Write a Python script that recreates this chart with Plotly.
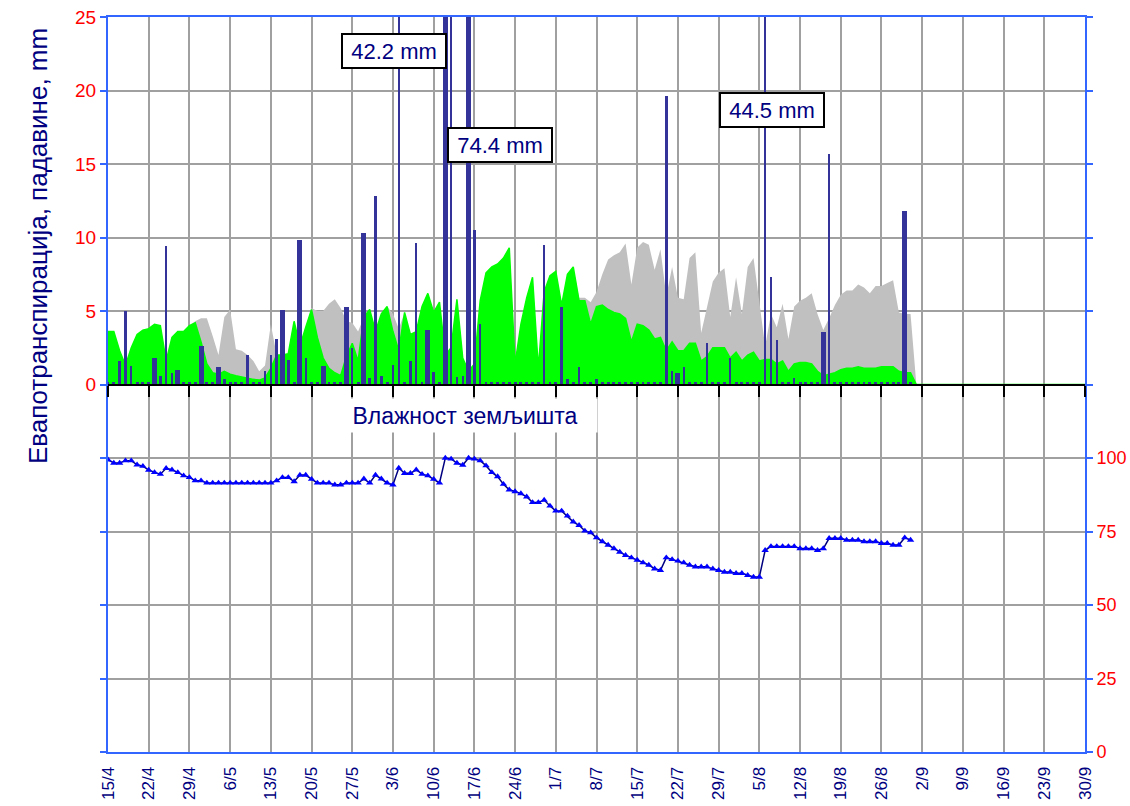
import plotly.graph_objects as go

# ---------------- data ----------------
# day index 0 = 15/4 ... 168 = 30/9
tick_labels = ["15/4", "22/4", "29/4", "6/5", "13/5", "20/5", "27/5", "3/6", "10/6", "17/6",
               "24/6", "1/7", "8/7", "15/7", "22/7", "29/7", "5/8", "12/8", "19/8", "26/8",
               "2/9", "9/9", "16/9", "23/9", "30/9"]
tick_days = [0, 7, 14, 21, 28, 35, 42, 49, 56, 63, 70, 77, 84, 91, 98, 105, 112, 119, 126,
             133, 140, 147, 154, 161, 168]

# actual evapotranspiration (green), mm, days 0..168
eta = [3.6, 3.6, 2.3, 1.3, 2.5, 3.4, 3.7, 3.8, 4.1, 4.0,
       1.6, 3.2, 3.6, 3.6, 4.0, 4.2, 2.9, 1.4, 0.8, 0.7,
       0.9, 0.7, 0.6, 0.5, 0.4, 0.35, 0.3, 0.45, 1.1, 2.0,
       2.0, 2.1, 4.3, 2.6, 3.9, 5.1, 3.2, 1.8, 1.1, 0.8,
       0.6, 1.9, 2.8, 1.6, 4.6, 5.1, 3.6, 4.8, 5.3, 3.6,
       2.3, 4.9, 3.4, 3.6, 5.3, 6.2, 4.9, 5.6, 2.0, 2.5,
       5.8, 1.8, 0.9, 1.4, 5.7, 7.6, 8.0, 8.2, 8.6, 9.3,
       1.4, 4.1, 5.9, 7.3, 1.1, 6.3, 7.4, 7.7, 5.4, 7.5,
       8.0, 5.7, 5.7, 4.1, 5.3, 5.4, 5.1, 4.9, 4.8, 4.5,
       2.9, 4.1, 4.0, 3.7, 3.1, 3.2, 2.3, 2.9, 2.3, 2.3,
       2.8, 2.8, 1.6, 1.9, 2.5, 2.5, 2.5, 1.8, 2.2, 1.6,
       2.0, 2.2, 1.6, 1.7, 1.7, 1.4, 1.6, 0.9, 1.4, 1.5,
       1.5, 1.4, 0.9, 0.6, 0.7, 0.8, 1.0, 1.1, 1.1, 1.2,
       1.1, 1.1, 1.1, 1.2, 1.2, 1.2, 0.9, 0.8, 0.8,
       0, 0, 0, 0, 0, 0, 0, 0, 0, 0, 0, 0, 0, 0, 0,
       0, 0, 0, 0, 0, 0, 0, 0, 0, 0, 0, 0, 0, 0, 0]

# potential evapotranspiration (grey), mm, days 0..168
etp = [3.6, 3.6, 2.3, 1.3, 2.5, 3.4, 3.7, 3.8, 4.1, 4.0,
       1.6, 3.2, 3.6, 3.6, 4.0, 4.3, 4.5, 4.5, 3.3, 2.0,
       4.6, 5.1, 2.4, 2.3, 2.0, 1.6, 0.9, 1.3, 4.1, 2.0,
       2.0, 2.1, 4.3, 2.6, 3.9, 5.2, 5.0, 5.0, 5.5, 5.8,
       5.2, 4.3, 4.2, 3.6, 4.6, 5.1, 3.6, 4.8, 5.3, 4.8,
       3.8, 4.9, 3.4, 3.6, 5.3, 6.2, 4.9, 5.6, 2.0, 2.5,
       5.8, 1.8, 0.9, 1.4, 5.7, 7.6, 8.0, 8.2, 8.6, 9.3,
       1.4, 4.1, 5.9, 7.3, 1.1, 6.3, 7.4, 7.7, 5.4, 7.5,
       8.0, 5.9, 5.9, 5.6, 6.3, 7.5, 8.5, 8.8, 9.0, 9.6,
       6.8, 9.3, 9.7, 9.5, 7.8, 9.2, 6.0, 8.0, 5.9, 5.8,
       8.6, 9.0, 3.5, 5.3, 7.0, 7.6, 7.9, 4.6, 7.3, 4.8,
       8.0, 8.6, 5.4, 2.6, 4.8, 3.9, 5.5, 3.1, 5.3, 5.7,
       5.9, 6.2, 4.8, 3.7, 4.5, 5.4, 6.1, 6.4, 6.4, 6.8,
       6.6, 6.2, 6.7, 6.7, 6.9, 7.1, 4.9, 4.8, 4.8,
       0, 0, 0, 0, 0, 0, 0, 0, 0, 0, 0, 0, 0, 0, 0,
       0, 0, 0, 0, 0, 0, 0, 0, 0, 0, 0, 0, 0, 0, 0]

# precipitation, narrow bars
rain_days = [2, 3, 4, 9, 10, 11, 20, 24, 27, 28, 29, 31, 34, 42, 45, 46, 47, 49, 50, 52, 53,
             56, 59, 60, 61, 63, 64, 75, 78, 79, 81, 84, 96, 97, 99, 103, 107, 113, 114,
             115, 118, 124]
rain_mm = [1.6, 5.0, 1.25, 0.6, 9.4, 0.8, 0.35, 2.0, 0.95, 2.0, 3.1, 1.7, 1.8, 2.45, 0.45,
           12.8, 0.6, 1.35, 42.2, 1.6, 9.6, 0.85, 28.0, 0.5, 0.6, 10.5, 4.1, 9.5, 5.3, 0.35,
           1.2, 0.35, 19.6, 0.95, 1.2, 2.8, 1.8, 44.5, 7.3, 3.0, 0.45, 15.7]

# precipitation, wide bars
rain2_days = [8, 12, 16, 19, 30, 33, 37, 41, 44, 55, 58, 62, 98, 123, 137]
rain2_mm = [1.8, 1.0, 2.65, 1.2, 5.1, 9.8, 1.25, 5.3, 10.3, 3.7, 74.4, 33.0, 0.8, 3.6, 11.8]

# trace amounts (small marks on the base line)
trace_days = [0, 1, 5, 6, 7, 13, 14, 15, 17, 18, 21, 22, 23, 25, 26, 32, 35, 36, 38, 39, 40,
              43, 48, 51, 54, 57, 65, 66, 67, 68, 69, 70, 71, 72, 73, 74, 76, 77, 80, 82, 83,
              85, 86, 87, 88, 89, 90, 91, 92, 93, 94, 95, 100, 101, 102, 104, 105, 106, 108,
              109, 110, 111, 112, 116, 117, 119, 120, 121, 122, 125, 126, 127, 128, 129, 130,
              131, 132, 133, 134, 135, 136, 138]
TRACE_MM = 0.15

# soil moisture, %, days 0..138
soil = [99.4, 98.3, 98.3, 99.1, 99.1, 97.7, 97.2, 95.9, 95.1, 94.5,
        96.5, 96.0, 95.1, 94.0, 93.4, 92.3, 92.3, 91.5, 91.5, 91.5,
        91.5, 91.5, 91.5, 91.5, 91.5, 91.5, 91.5, 91.5, 91.5, 92.3,
        93.4, 93.4, 92.0, 94.2, 94.2, 92.8, 91.5, 91.5, 91.5, 90.9,
        90.9, 91.5, 91.5, 91.5, 92.9, 91.5, 94.2, 92.9, 91.5, 90.9,
        96.6, 94.8, 94.8, 96.0, 94.5, 94.0, 92.8, 91.5, 100.0, 99.7,
        98.3, 97.6, 100.0, 99.7, 99.1, 97.4, 95.1, 93.7, 91.1, 89.2,
        88.6, 87.9, 86.8, 84.9, 84.9, 85.7, 83.7, 82.0, 82.0, 80.3,
        78.3, 77.1, 75.2, 74.6, 72.9, 71.6, 70.4, 69.2, 68.0, 66.9,
        66.1, 65.3, 64.4, 63.6, 62.3, 61.8, 66.1, 65.5, 65.0, 64.4,
        63.6, 63.0, 63.0, 63.0, 62.3, 61.8, 61.2, 61.2, 60.8, 60.8,
        60.1, 59.5, 59.5, 68.6, 69.9, 69.9, 69.9, 69.9, 69.9, 69.2,
        69.2, 69.2, 68.6, 69.2, 72.7, 72.7, 72.7, 72.1, 72.1, 72.1,
        71.6, 71.6, 71.6, 71.0, 71.0, 70.4, 70.4, 72.9, 72.1]

# ---------------- styling ----------------
FONT = "Arial, Liberation Sans, sans-serif"
NAVY = "#000080"
BAR = "#333399"
AXBLUE = "#3366FF"
GRID = "#A0A0A0"
RED = "#FF0000"

W, H = 1130, 806
ML, MR, MT, MB = 108, 45, 17, 54
PW = W - ML - MR
PH = H - MT - MB

days = list(range(len(eta)))
soil_days = list(range(len(soil)))

fig = go.Figure()

# areas on the base subplot (x, y)
fig.add_trace(go.Scatter(x=days, y=etp, xaxis="x", yaxis="y", mode="lines",
                         fill="tozeroy", fillcolor="#C0C0C0",
                         line=dict(color="#C0C0C0", width=0), hoverinfo="skip"))
fig.add_trace(go.Scatter(x=days, y=eta, xaxis="x", yaxis="y", mode="lines",
                         fill="tozeroy", fillcolor="#00FF00",
                         line=dict(color="#00FF00", width=1.5), hoverinfo="skip"))
# bars on the overlay x2 axis (the axis line at 0)
fig.add_trace(go.Bar(x=trace_days, y=[TRACE_MM] * len(trace_days), xaxis="x2", yaxis="y",
                     width=0.5, marker=dict(color=BAR, line=dict(width=0))))
fig.add_trace(go.Bar(x=rain_days, y=rain_mm, xaxis="x2", yaxis="y",
                     width=0.42, marker=dict(color=BAR, line=dict(width=0))))
fig.add_trace(go.Bar(x=rain2_days, y=rain2_mm, xaxis="x2", yaxis="y",
                     width=0.85, marker=dict(color=BAR, line=dict(width=0))))
# soil moisture on right axis
fig.add_trace(go.Scatter(x=soil_days, y=soil, xaxis="x", yaxis="y2", mode="lines+markers",
                         line=dict(color=NAVY, width=1.5),
                         marker=dict(symbol="triangle-up", size=6.5, color="#0000FF",
                                     line=dict(width=0))))

y_ticks = list(range(-25, 30, 5))
y_text = [str(v) if v >= 0 else "" for v in y_ticks]
y2_ticks = list(range(0, 275, 25))
y2_text = [str(v) if v <= 100 else "" for v in y2_ticks]

fig.update_layout(
    width=W, height=H,
    margin=dict(l=ML, r=MR, t=MT, b=MB, autoexpand=False),
    paper_bgcolor="white", plot_bgcolor="white",
    showlegend=False, barmode="overlay", bargap=0,
    font=dict(family=FONT),
    xaxis=dict(range=[0, 168], tickvals=tick_days, ticktext=tick_labels, tickangle=-90,
               tickfont=dict(size=17, color=NAVY, family=FONT),
               showgrid=True, gridcolor=GRID, gridwidth=2, zeroline=False,
               showline=True, linecolor=AXBLUE, linewidth=2, mirror=True,
               ticks="", ticklabelstandoff=6, automargin=False),
    xaxis2=dict(range=[0, 168], overlaying="x", anchor="free", position=0.5, side="bottom",
                tickvals=tick_days, showticklabels=False, ticks="outside", ticklen=11,
                tickwidth=2, tickcolor="black", showline=True, linecolor="black",
                linewidth=2, showgrid=False, zeroline=False),
    yaxis=dict(range=[-25, 25], tickvals=y_ticks, ticktext=y_text,
               tickfont=dict(size=19, color=RED, family=FONT),
               showgrid=True, gridcolor=GRID, gridwidth=2, zeroline=False,
               showline=True, linecolor=AXBLUE, linewidth=2,
               ticks="outside", ticklen=6, tickwidth=2, tickcolor=AXBLUE, automargin=False),
    yaxis2=dict(range=[0, 250], overlaying="y", side="right", tickvals=y2_ticks,
                ticktext=y2_text, tickfont=dict(size=18, color=RED, family=FONT),
                showgrid=False, zeroline=False, showline=True, linecolor=AXBLUE,
                linewidth=2, ticks="outside", ticklen=6, tickwidth=2, tickcolor=AXBLUE,
                automargin=False),
)

# axis title (left)
fig.add_annotation(text="Евапотранспирација, падавине, mm", xref="paper", yref="paper",
                   x=(38 - ML) / PW, y=(H - MB - 246) / PH, xanchor="center", yanchor="middle",
                   textangle=-90, showarrow=False,
                   font=dict(size=26, color=NAVY, family=FONT))

# soil moisture label (white box hides grid lines)
fig.add_annotation(text="Влажност земљишта", xref="x", yref="y", x=61.4, y=-2.14,
                   xanchor="center", yanchor="middle",
                   showarrow=False, bgcolor="white", width=264, height=33, valign="middle",
                   borderpad=0, font=dict(size=23, color=NAVY, family=FONT))

# labels for bars beyond the scale
for txt, xd, yv in [("42.2 mm", 49.2, 22.7), ("74.4 mm", 67.4, 16.3), ("44.5 mm", 114.2, 18.7)]:
    fig.add_annotation(text=txt, xref="x", yref="y", x=xd, y=yv, showarrow=False,
                       xanchor="center", yanchor="middle",
                       bgcolor="white", bordercolor="black", borderwidth=2, borderpad=1,
                       width=100, height=30, font=dict(size=22, color=NAVY, family=FONT))

fig.write_html("out.html", config={"displayModeBar": False},
               post_script="document.body.style.margin='0px';document.body.style.overflow='hidden';")
